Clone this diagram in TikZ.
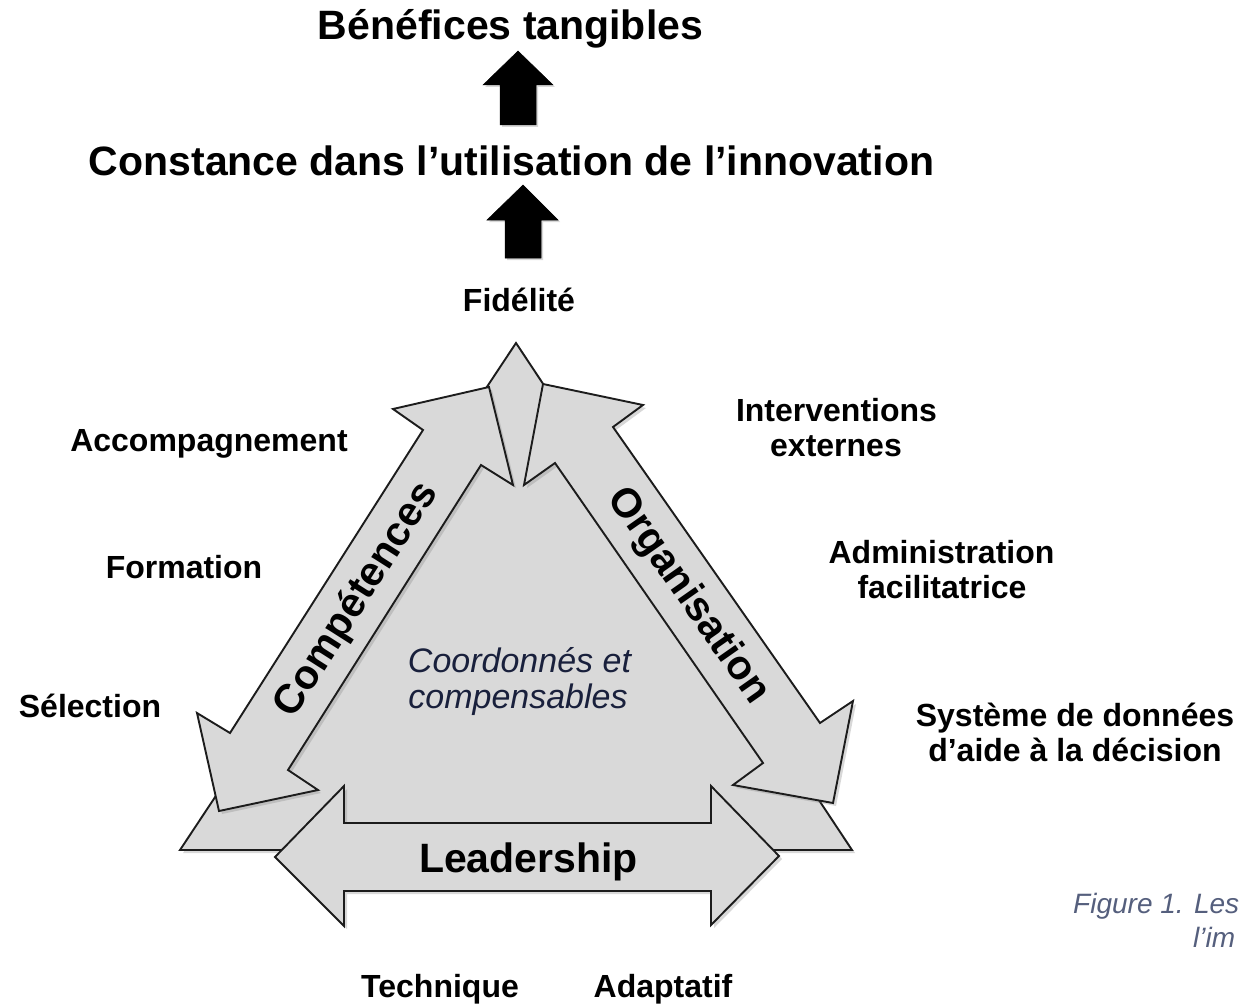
\documentclass[tikz,border=0pt]{standalone}
\usepackage{fontspec}
\setmainfont{Liberation Sans}
\usetikzlibrary{shadows}
\definecolor{shapegray}{HTML}{D9D9D9}
\definecolor{edgegray}{HTML}{1C1C1C}
\definecolor{navytext}{RGB}{25,32,60}
\definecolor{captiongray}{RGB}{85,95,125}
\tikzset{
  panel/.style={fill=shapegray, draw=edgegray, line width=1.9pt, line join=miter,
    drop shadow={shadow xshift=3pt, shadow yshift=-3pt, opacity=0.3}},
  blockarrow/.style={fill=black, draw=black, line width=0.5pt,
    drop shadow={shadow xshift=2pt, shadow yshift=-2pt, opacity=0.3}},
  headtext/.style={font=\fontsize{41}{49}\selectfont\bfseries, inner sep=0pt, anchor=base},
  drivertext/.style={font=\fontsize{32}{38}\selectfont\bfseries, inner sep=0pt, anchor=base},
  sidetext/.style={font=\fontsize{41}{49}\selectfont\bfseries, inner sep=0pt},
  italtext/.style={font=\fontsize{34}{38}\selectfont\itshape, text=navytext, inner sep=0pt, anchor=base},
  captext/.style={font=\fontsize{28}{34}\selectfont\itshape, text=captiongray, inner sep=0pt, anchor=base west},
}
\begin{document}
\begin{tikzpicture}[x=1pt, y=-1pt]
\useasboundingbox (0,0) rectangle (1241,1006);
\fill[white] (0,0) rectangle (1241,1006);

% titles
\node[headtext] (benefices) at (510.5,40) {Bénéfices tangibles};
\node[headtext] (constance) at (511.5,175) {Constance dans l’utilisation de l’innovation};
\node[drivertext] (fidelite) at (519,311) {Fidélité};

% black block arrows
\path[blockarrow] (518,51) -- (553,85) -- (536,85) -- (536,125) -- (500,125) -- (500,85) -- (483,85) -- cycle;
\path[blockarrow] (523,185) -- (558,220) -- (541,220) -- (541,258) -- (505,258) -- (505,220) -- (487,220) -- cycle;

% background triangle
\path[panel] (180,850) -- (516,343) -- (852,850) -- cycle;

% Competences arrow (left)
\path[panel] (393,409) -- (489,387) -- (513,485) -- (481,465) -- (288,770) -- (318,790)
  -- (219,811) -- (197,713) -- (230,733) -- (423,430) -- cycle;

% Organisation arrow (right)
\path[panel] (643,405) -- (613,427) -- (820,723) -- (853,701) -- (833,803) -- (733,785)
  -- (763,763) -- (555,463) -- (524,485) -- (543,384) -- cycle;

% Leadership arrow (bottom)
\path[panel] (275,857) -- (344,786) -- (344,823) -- (711,823) -- (711,786) -- (779,856)
  -- (711,925) -- (711,891) -- (344,891) -- (344,926) -- cycle;

% arrow labels
\node[sidetext, rotate=57.5] (competences) at (357,600) {Compétences};
\node[sidetext, rotate=-55] (organisation) at (688,596) {Organisation};
\node[headtext] (leadership) at (528.5,872) {Leadership};

\node[italtext] (coord) at (519.5,672) {Coordonnés et};
\node[italtext] (compens) at (518,708) {compensables};

% side labels
\node[drivertext] (accomp) at (209,451) {Accompagnement};
\node[drivertext] (formation) at (184,578) {Formation};
\node[drivertext] (selection) at (90,717) {Sélection};
\node[drivertext] (interv) at (836.5,421) {Interventions};
\node[drivertext] (externes) at (836,456) {externes};
\node[drivertext] (admin) at (941.5,563) {Administration};
\node[drivertext] (facil) at (942,598) {facilitatrice};
\node[drivertext] (systeme) at (1075,726) {Système de données};
\node[drivertext] (aide) at (1075,761) {d’aide à la décision};
\node[drivertext] (technique) at (440,997) {Technique};
\node[drivertext] (adaptatif) at (663,997) {Adaptatif};

% caption (cut at the right edge)
\node[captext] (cap1) at (1073,913) {Figure 1. Les};
\node[captext] (cap2) at (1193,947) {l’im};
\end{tikzpicture}
\end{document}
